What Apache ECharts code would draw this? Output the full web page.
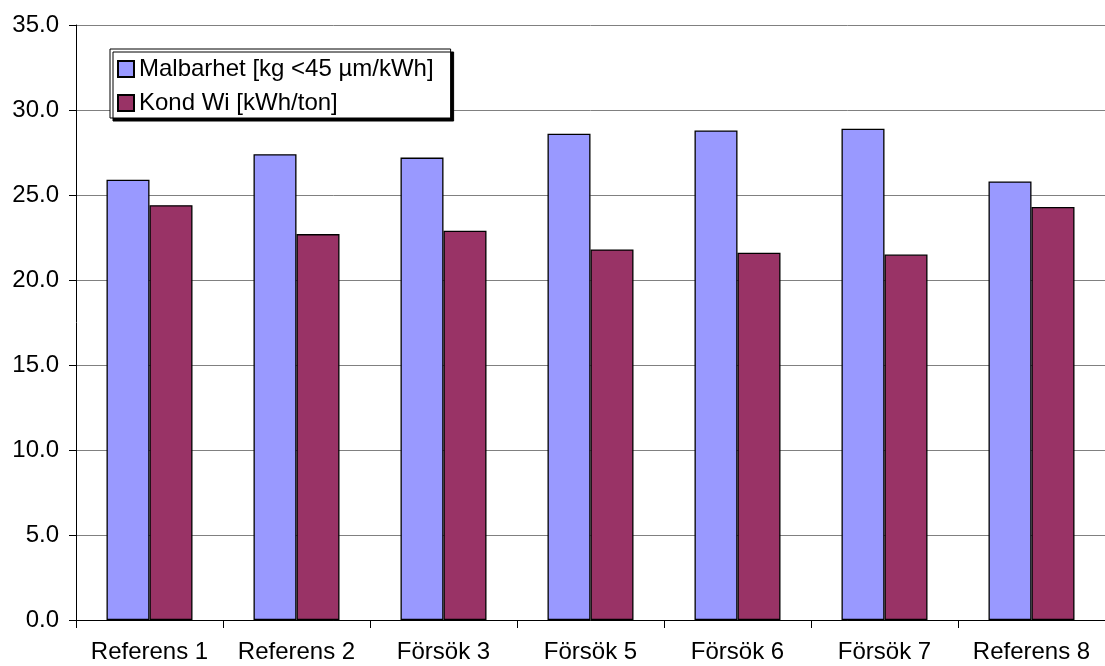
<!DOCTYPE html>
<html>
<head>
<meta charset="utf-8">
<style>
  html, body { margin: 0; padding: 0; background: #ffffff; }
  #chart { width: 1105px; height: 666px; }
</style>
<script src="https://cdn.jsdelivr.net/npm/echarts@6/dist/echarts.min.js"></script>
</head>
<body>
<div id="chart"></div>
<script>
// Test runs: grinding yield and specific energy per run
const categories = ['Referens 1', 'Referens 2', 'Försök 3', 'Försök 5', 'Försök 6', 'Försök 7', 'Referens 8'];
const malbarhet = [25.9, 27.4, 27.2, 28.6, 28.8, 28.9, 25.8];
const kondWi = [24.4, 22.7, 22.9, 21.8, 21.6, 21.5, 24.3];
const seriesNames = ['Malbarhet [kg <45 µm/kWh]', 'Kond Wi [kWh/ton]'];
const yTicks = { min: 0, max: 35, step: 5 };

const FONT = "'Liberation Sans', Arial, sans-serif";

const chart = echarts.init(document.getElementById('chart'), null, { renderer: 'canvas' });

chart.setOption({
  backgroundColor: '#ffffff',
  animation: false,
  textStyle: { fontFamily: FONT },
  grid: { left: 76, top: 25, width: 1040, height: 595, containLabel: false },
  legend: {
    orient: 'vertical',
    left: 110,
    top: 49,
    padding: [8, 17, 3, 7],
    icon: 'rect',
    itemWidth: 16,
    itemHeight: 16,
    itemGap: 10,
    backgroundColor: '#ffffff',
    borderColor: '#000000',
    borderWidth: 1,
    shadowColor: '#000000',
    shadowBlur: 0,
    shadowOffsetX: 3,
    shadowOffsetY: 3,
    textStyle: { color: '#000000', fontSize: 24, fontFamily: FONT },
    data: seriesNames
  },
  xAxis: {
    type: 'category',
    data: categories,
    axisLine: { lineStyle: { color: '#000000', width: 1 } },
    axisTick: { show: true, length: 8, lineStyle: { color: '#000000' } },
    axisLabel: { color: '#000000', fontSize: 24, fontFamily: FONT, margin: 20, interval: 0 },
    splitLine: { show: false }
  },
  yAxis: {
    type: 'value',
    min: yTicks.min,
    max: yTicks.max,
    interval: yTicks.step,
    axisLine: { show: true, lineStyle: { color: '#000000', width: 1 } },
    axisTick: { show: true, length: 7, lineStyle: { color: '#000000' } },
    axisLabel: { color: '#000000', fontSize: 24, fontFamily: FONT, margin: 17,
      formatter: v => v.toFixed(1) },
    splitLine: { show: true, lineStyle: { color: '#808080', width: 1 } }
  },
  series: [
    {
      name: seriesNames[0],
      type: 'bar',
      data: malbarhet,
      barWidth: 43,
      barGap: '0%',
      itemStyle: { color: '#9999FF', borderColor: '#000000', borderWidth: 1.3 }
    },
    {
      name: seriesNames[1],
      type: 'bar',
      data: kondWi,
      barWidth: 43,
      barGap: '0%',
      itemStyle: { color: '#993366', borderColor: '#000000', borderWidth: 1.3 }
    }
  ]
});
</script>
</body>
</html>
